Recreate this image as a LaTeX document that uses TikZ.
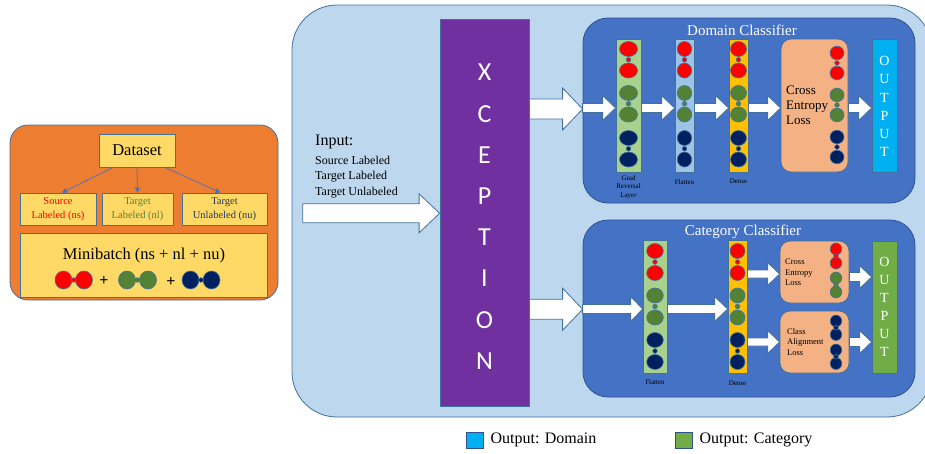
\documentclass[tikz,border=0pt]{standalone}
\usepackage{fontspec}
\setmainfont{Liberation Serif}
\newfontfamily\xcepfont{Carlito}
\usetikzlibrary{positioning,arrows.meta,calc}

\definecolor{boxline}{HTML}{41719C}
\definecolor{domline}{HTML}{2F528F}
\definecolor{linkblue}{HTML}{4472C4}
\definecolor{orangebg}{HTML}{ED7D31}
\definecolor{yellowbox}{HTML}{FFD966}
\definecolor{bigblue}{HTML}{BDD7EE}
\definecolor{xpurple}{HTML}{7030A0}
\definecolor{clsblue}{HTML}{4472C4}
\definecolor{gradgreen}{HTML}{A9D18E}
\definecolor{flatblue}{HTML}{9DC3E6}
\definecolor{densegold}{HTML}{FFC000}
\definecolor{salmon}{HTML}{F4B183}
\definecolor{outcyan}{HTML}{00B0F0}
\definecolor{outgreen}{HTML}{70AD47}
\definecolor{nred}{HTML}{FF0000}
\definecolor{ngreen}{HTML}{548235}
\definecolor{nnavy}{HTML}{002060}
\definecolor{tgreen}{HTML}{548235}
\definecolor{tnavy}{HTML}{203864}

\newcommand{\blockarrow}[6]{%
  \draw[barrow] let \p1=(#1), \p2=(#2) in
    (\x1,{-#3pt+#4pt}) -- ({\x2-#6pt},{-#3pt+#4pt}) -- ({\x2-#6pt},{-#3pt+#5pt})
    -- (\x2,-#3pt) -- ({\x2-#6pt},{-#3pt-#5pt}) -- ({\x2-#6pt},{-#3pt-#4pt})
    -- (\x1,{-#3pt-#4pt}) -- cycle;}
\newcommand{\npair}[6]{%
  \draw[neuron,fill=#6] (#1,#2) ellipse [x radius=#4pt,y radius=#5pt];
  \draw[neuron,fill=#6] (#1,{#2+#3}) ellipse [x radius=#4pt,y radius=#5pt];
  \draw[neuron,fill=#6] (#1,{#2+#3/2}) circle [radius=2.3pt];}
\newcommand{\hpair}[6]{%
  \draw[neuron,fill=#6] (#1,#2) ellipse [x radius=#4pt,y radius=#5pt];
  \draw[neuron,fill=#6] ({#1+#3},#2) ellipse [x radius=#4pt,y radius=#5pt];
  \draw[neuron,fill=#6] ({#1+#3/2},#2) circle [radius=2.3pt];}

\begin{document}
\begin{tikzpicture}[x=1pt,y=-1pt,
  box/.style={draw=boxline,line width=0.8pt,inner sep=0pt,align=center},
  link/.style={draw=linkblue,line width=0.7pt,-{Triangle[length=5pt,width=5pt]}},
  barrow/.style={draw=boxline,fill=white,line width=0.8pt},
  neuron/.style={draw=boxline,line width=0.6pt},
  tiny/.style={inner sep=0pt,align=center,font=\fontsize{7}{8.5}\selectfont}]
\useasboundingbox (0,0) rectangle (925,453);

\node[box,fill=orangebg,rounded corners=18pt,minimum width=268pt,minimum height=175pt] (prep) at (144,212.5) {};
\node[box,fill=yellowbox,minimum width=76pt,minimum height=33pt,font=\fontsize{16.5}{18}\selectfont] (dataset) at (137,150.5) {Dataset};
\node[box,fill=yellowbox,minimum width=76pt,minimum height=32pt,text=red,font=\fontsize{10.5}{14}\selectfont] (srcl) at (58,209) {Source\\Labeled (ns)};
\node[box,fill=yellowbox,minimum width=71pt,minimum height=32pt,text=tgreen,font=\fontsize{10.5}{14}\selectfont] (tgtl) at (137.5,209) {Target\\Labeled (nl)};
\node[box,fill=yellowbox,minimum width=85pt,minimum height=32pt,text=tnavy,font=\fontsize{10.5}{14}\selectfont] (tgtu) at (224.5,209) {Target\\Unlabeled (nu)};
\node[box,fill=yellowbox,minimum width=247pt,minimum height=64pt] (mini) at (143.5,265) {};
\node[font=\fontsize{16.5}{18}\selectfont] (minilbl) at (144,256) {Minibatch (ns + nl + nu)};
\node[font=\bfseries\fontsize{16}{18}\selectfont] (plusa) at (104,281) {+};
\node[font=\bfseries\fontsize{16}{18}\selectfont] (plusb) at (171,282) {+};
\hpair{63.5}{280}{20.5}{8.5}{9}{nred}
\hpair{127}{280}{21}{8.5}{9}{ngreen}
\hpair{190.5}{280}{21}{8.5}{9}{nnavy}

\draw[link] ([xshift=-24pt]dataset.south) -- ([xshift=4pt]srcl.north);
\draw[link] (dataset.south) -- (tgtl.north);
\draw[link] ([xshift=28pt]dataset.south) -- ([xshift=-4pt]tgtu.north);

\node[box,fill=bigblue,rounded corners=45pt,minimum width=640pt,minimum height=412pt] (main) at (612,211) {};
\node[box,fill=xpurple,minimum width=89pt,minimum height=387pt] (xcep) at (484.5,212.5) {};
\node[text=white,align=center,font=\xcepfont\fontsize{26}{41.2}\selectfont] (xceplbl) at (484.5,216.7) {X\\C\\E\\P\\T\\I\\O\\N};

\coordinate (instart) at (302.7,213.3);
\node[anchor=base west,inner sep=0pt,font=\fontsize{16}{18}\selectfont] (inlbl) at (315,145) {Input:};
\node[anchor=north west,align=left,inner sep=0pt,font=\fontsize{12}{15.5}\selectfont] (inlist) at (315,155.5) {Source Labeled\\Target Labeled\\Target Unlabeled};

\node[box,draw=domline,fill=clsblue,rounded corners=25pt,minimum width=332pt,minimum height=185pt] (dom) at (749,110.5) {};
\node[text=white,font=\fontsize{15}{18}\selectfont] (domlbl) at (742,30) {Domain Classifier};
\node[box,fill=gradgreen,minimum width=25pt,minimum height=133pt] (gradD) at (628.5,105.5) {};
\node[box,fill=flatblue,minimum width=19pt,minimum height=133pt] (flatD) at (684.5,105.5) {};
\node[box,fill=densegold,minimum width=19pt,minimum height=133pt] (denseD) at (738.5,105.5) {};
\node[box,fill=salmon,rounded corners=10pt,minimum width=67pt,minimum height=133pt] (lossD) at (814.5,105.5) {};
\node[box,fill=outcyan,minimum width=25pt,minimum height=133pt] (outD) at (884.5,105.5) {};
\node[text=white,align=center,font=\fontsize{14}{18.2}\selectfont] (outDlbl) at (884.5,106.5) {O\\U\\T\\P\\U\\T};
\node[anchor=west,align=left,inner sep=0pt,font=\fontsize{13}{15}\selectfont] (lossDlbl) at (786,105) {Cross\\Entropy\\Loss};
\node[tiny,below=3pt of gradD] (gradDlbl) {Grad\\Reversal\\Layer};
\node[tiny,below=7pt of flatD] (flatDlbl) {Flatten};
\node[tiny,below=6.5pt of denseD] (denseDlbl) {Dense};

\npair{628.5}{49}{21.5}{9}{7.5}{nred}
\npair{628.5}{93}{21.5}{9}{7.5}{ngreen}
\npair{628.5}{138}{21.5}{9}{7.5}{nnavy}
\npair{684.5}{49}{21.5}{7.2}{7.5}{nred}
\npair{684.5}{93}{21.5}{7.2}{7.5}{ngreen}
\npair{684.5}{138}{21.5}{7.2}{7.5}{nnavy}
\npair{738.5}{49}{21.5}{8}{7.5}{nred}
\npair{738.5}{93}{21.5}{8}{7.5}{ngreen}
\npair{738.5}{138}{21.5}{8}{7.5}{nnavy}
\npair{837}{53}{20}{7}{6.8}{nred}
\npair{837}{95}{20}{7}{6.8}{ngreen}
\npair{837}{137}{20}{7}{6.8}{nnavy}

\blockarrow{dom.west}{gradD.west}{108}{4.5}{12.5}{13}
\blockarrow{gradD.east}{flatD.west}{108}{4.5}{12.5}{13}
\blockarrow{flatD.east}{denseD.west}{108}{4.5}{12.5}{13}
\blockarrow{denseD.east}{lossD.west}{108}{4.5}{12.5}{13}
\blockarrow{lossD.east}{outD.west}{108}{4.5}{12.5}{13}

\node[box,draw=domline,fill=clsblue,rounded corners=25pt,minimum width=332pt,minimum height=177pt] (cat) at (749,308.5) {};
\node[text=white,font=\fontsize{15}{18}\selectfont] (catlbl) at (743,232) {Category Classifier};
\node[box,fill=gradgreen,minimum width=24pt,minimum height=133pt] (flatC) at (655,306.5) {};
\node[box,fill=densegold,minimum width=19pt,minimum height=133pt] (denseC) at (737.5,306.5) {};
\node[box,fill=salmon,rounded corners=10pt,minimum width=69pt,minimum height=62pt] (lossC) at (814.5,272) {};
\node[box,fill=salmon,rounded corners=10pt,minimum width=69pt,minimum height=62pt] (alignC) at (814.5,342) {};
\node[box,fill=outgreen,minimum width=25pt,minimum height=132pt] (outC) at (884.5,307) {};
\node[text=white,align=center,font=\fontsize{14}{18}\selectfont] (outClbl) at (884.5,307) {O\\U\\T\\P\\U\\T};
\node[anchor=west,align=left,inner sep=0pt,font=\fontsize{8.5}{10.5}\selectfont] (lossClbl) at (785,272.5) {Cross\\Entropy\\Loss};
\node[anchor=west,align=left,inner sep=0pt,font=\fontsize{8.5}{10.5}\selectfont] (alignClbl) at (787,342) {Class\\Alignment\\Loss};
\node[tiny,below=6pt of flatC] (flatClbl) {Flatten};
\node[tiny,below=7pt of denseC] (denseClbl) {Dense};

\npair{655}{251}{22}{8.3}{7.5}{nred}
\npair{655}{295.5}{22}{8.3}{7.5}{ngreen}
\npair{655}{340}{22}{8.3}{7.5}{nnavy}
\npair{737.5}{251}{22}{7.5}{7.5}{nred}
\npair{737.5}{295.5}{22}{7.5}{7.5}{ngreen}
\npair{737.5}{340}{22}{7.5}{7.5}{nnavy}
\npair{836}{249}{14}{5.8}{6}{nred}
\npair{836}{278}{14}{5.8}{6}{ngreen}
\npair{836}{321}{13.5}{5.8}{6}{nnavy}
\npair{836}{350}{13.5}{5.8}{6}{nnavy}

\blockarrow{cat.west}{flatC.west}{309}{4.5}{12.5}{12}
\blockarrow{flatC.east}{denseC.west}{309}{4.5}{12.5}{13}
\blockarrow{denseC.east}{lossC.west}{274}{4}{11.5}{12}
\blockarrow{denseC.east}{alignC.west}{342}{4}{11.5}{12}
\blockarrow{lossC.east}{outC.west}{277}{4.5}{11.5}{12}
\blockarrow{alignC.east}{outC.west}{342}{4.5}{11.5}{12}

\blockarrow{instart}{xcep.west}{213.3}{9.5}{19.5}{20.5}
\blockarrow{xcep.east}{dom.west}{109}{10}{21}{20}
\blockarrow{xcep.east}{cat.west}{309.3}{10}{21}{20}

\node[box,draw=domline,fill=outcyan,minimum width=17pt,minimum height=16pt] (keyD) at (474.5,440) {};
\node[right=7pt of keyD,inner sep=0pt,font=\fontsize{16}{18}\selectfont] (keyDlbl) {Output: Domain};
\node[box,draw=domline,fill=outgreen,minimum width=17pt,minimum height=16pt] (keyC) at (683.5,440) {};
\node[right=7pt of keyC,inner sep=0pt,font=\fontsize{16}{18}\selectfont] (keyClbl) {Output: Category};
\end{tikzpicture}
\end{document}
